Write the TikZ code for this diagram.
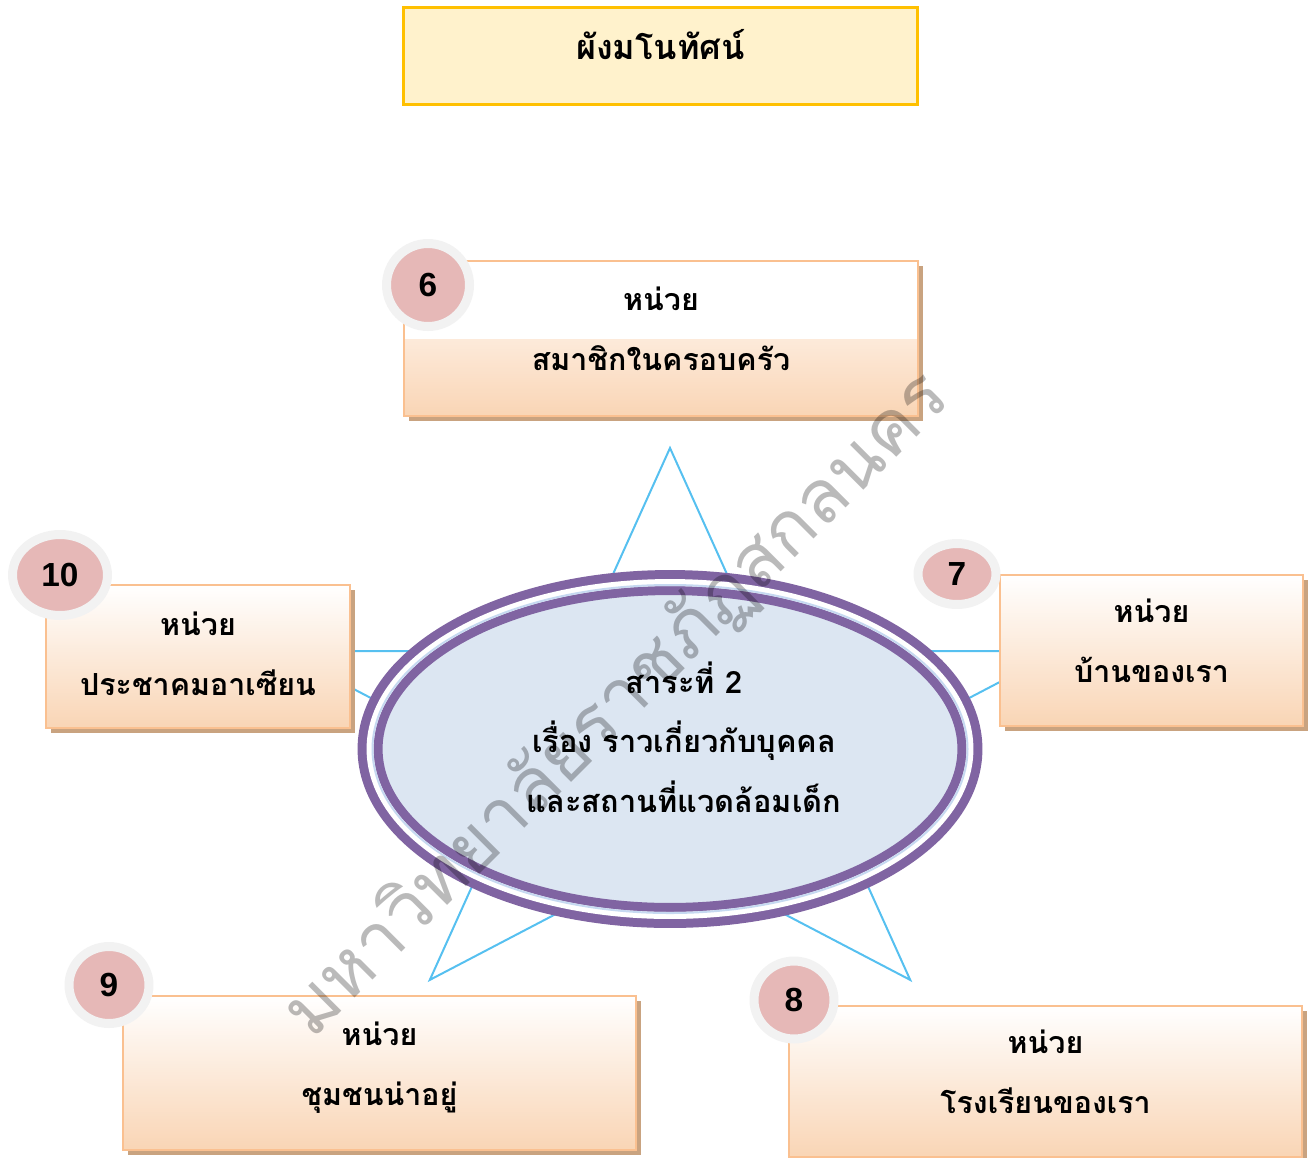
\documentclass[tikz,border=0pt]{standalone}
\usepackage{fontspec}
\usepackage{xcolor}
\usepackage{tikz}
\usetikzlibrary{shapes.geometric,shadows}
\newfontfamily\thaifont[Script=Thai]{Loma}
\newfontfamily\numfont{Liberation Sans}
\definecolor{titlefill}{HTML}{FFF2CC}
\definecolor{titleline}{HTML}{FFC000}
\definecolor{peach}{RGB}{249,213,181}
\definecolor{peachlight}{RGB}{253,234,218}
\definecolor{boxline}{RGB}{250,192,144}
\definecolor{boxshadow}{RGB}{201,163,128}
\definecolor{badge}{HTML}{E6B8B7}
\definecolor{badgering}{HTML}{F2F2F2}
\definecolor{hubline}{HTML}{8064A2}
\definecolor{hubfill}{HTML}{DCE6F2}
\definecolor{hubgap}{HTML}{C6D9F1}
\definecolor{starblue}{RGB}{86,192,240}
\pgfdeclareverticalshading{halfwhite}{100bp}{color(0bp)=(peach); color(25bp)=(peach); color(49.9bp)=(peachlight); color(50bp)=(white); color(100bp)=(white)}

\begin{document}
\begin{tikzpicture}[x=0.02cm,y=-0.02cm,
  titlebox/.style={rectangle,draw=titleline,line width=0.06cm,fill=titlefill,
    minimum width=10.3cm,minimum height=1.96cm,text depth=0.45cm,
    font=\thaifont\bfseries\fontsize{19.5}{19.5}\selectfont},
  unitbox/.style={rectangle,draw=boxline,line width=0.04cm,top color=white,bottom color=peach,
    drop shadow={shadow xshift=0.1cm,shadow yshift=-0.1cm,fill=boxshadow,opacity=1},
    align=center,inner sep=0pt,text depth=0.38cm,
    font=\thaifont\bfseries\fontsize{17.3}{34}\selectfont},
  badge/.style={ellipse,fill=badge,draw=badgering,line width=0.18cm,inner sep=0pt,
    font=\numfont\bfseries\fontsize{19}{19}\selectfont},
  hub/.style={ellipse,draw=hubline,line width=0.18cm,double=white,double distance=0.14cm,
    fill=hubfill,minimum width=12cm,minimum height=6.66cm},
  hubtext/.style={align=center,font=\thaifont\bfseries\fontsize{17.5}{34}\selectfont},
  starline/.style={draw=starblue,line width=0.04cm},
  watermark/.style={rotate=45,text=black,text opacity=0.27,font=\thaifont\fontsize{42}{42}\selectfont}]
\useasboundingbox (0,0) rectangle (1315,1157);

% Title
\node[titlebox] (title) at (660.5,56) {ผังมโนทัศน์};

% Star behind the centre
\draw[starline] (670,448) -- (761.8,651.2) -- (1058.7,651.2) -- (818.5,776.7)
  -- (910.2,979.9) -- (670,854.3) -- (429.8,979.9) -- (521.5,776.7)
  -- (281.3,651.2) -- (578.2,651.2) -- cycle;

% Centre
\node[hub] (core) at (670,749) {};
\draw[hubgap,line width=0.04cm] (core.center) ellipse [x radius=297.5,y radius=164];
\node[hubtext] (theme) at (684,737) {สาระที่ 2\\เรื่อง ราวเกี่ยวกับบุคคล\\และสถานที่แวดล้อมเด็ก};

% Units
\node[unitbox,shading=halfwhite,minimum width=10.28cm,minimum height=3.1cm] (u6) at (661,338.5) {หน่วย\\สมาชิกในครอบครัว};
\node[unitbox,minimum width=6.06cm,minimum height=3.02cm] (u7) at (1151.5,650.5) {หน่วย\\บ้านของเรา};
\node[unitbox,minimum width=10.26cm,minimum height=3.02cm] (u8) at (1045.5,1081.5) {หน่วย\\โรงเรียนของเรา};
\node[unitbox,minimum width=10.26cm,minimum height=3.08cm] (u9) at (379.5,1073) {หน่วย\\ชุมชนน่าอยู่};
\node[unitbox,text depth=0.1cm,minimum width=6.08cm,minimum height=2.86cm] (u10) at (198,656.5) {หน่วย\\ประชาคมอาเซียน};

% Numbers
\node[badge,minimum width=1.66cm,minimum height=1.66cm] (n6) at (428,285) {6};
\node[badge,minimum width=1.56cm,minimum height=1.22cm] (n7) at (957,574) {7};
\node[badge,minimum width=1.6cm,minimum height=1.56cm] (n8) at (794,1000) {8};
\node[badge,minimum width=1.6cm,minimum height=1.54cm] (n9) at (109,985) {9};
\node[badge,minimum width=1.9cm,minimum height=1.62cm] (n10) at (60,575) {10};

% Watermark
\node[watermark] (stamp) at (617,705) {มหาวิทยาลัยราชภัฏสกลนคร};
\end{tikzpicture}
\end{document}
